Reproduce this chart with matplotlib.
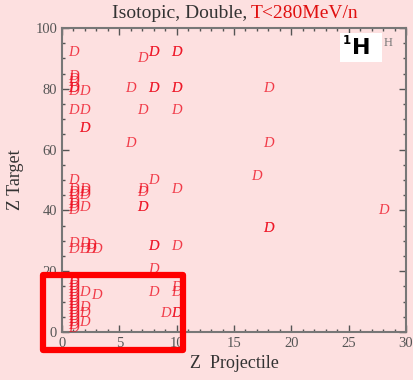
import matplotlib.pyplot as plt
from matplotlib.patches import Rectangle
from matplotlib.ticker import MultipleLocator

# projectile / target charge of each double-differential isotopic data set
proj_z = [1, 7, 8, 8, 10, 10,
          1, 1, 1, 1, 1, 1, 2, 6, 8, 8, 10, 10, 18,
          1, 2, 7, 10,
          2, 2, 6, 18, 17,
          1, 8, 7, 7, 10,
          1, 1, 1, 2, 2, 2,
          1, 1, 1, 1, 2, 7, 7, 28, 18, 18,
          1, 1, 2, 2, 2.5, 2.5, 3, 8, 8, 10,
          8,
          1, 1, 1, 1, 1, 1, 1, 1, 1, 1, 1, 1, 1, 1, 1, 1, 1,
          2, 3, 2, 2, 2, 8, 10, 10, 9, 10, 10]
targ_z = [92, 90, 92, 92, 92, 92,
          84, 83, 82, 80, 80, 79, 79, 80, 80, 80, 80, 80, 80,
          73, 73, 73, 73,
          67, 67, 62, 62, 51,
          50, 50, 47, 46, 47,
          47, 46, 45, 47, 46, 45,
          43, 42, 41, 40, 41, 41, 41, 40, 34, 34,
          29, 27, 29, 27, 28.5, 27, 27, 28, 28, 28,
          20.5,
          1, 2, 3, 4, 5, 6, 7, 8, 9, 10, 11, 12, 13, 14, 15, 16, 17,
          13, 12, 8, 6, 3, 13, 13, 14.5, 6, 6, 6]

title_left = "Isotopic, Double,"
title_right = "T<280MeV/n"
x_label = "Z  Projectile"
y_label = "Z Target"

pink = "#fde0e0"
grey = "#555555"
serif = "Liberation Serif"

fig = plt.figure(figsize=(4.14, 3.8), dpi=100, facecolor=pink)
ax = fig.add_axes([62 / 414, 48 / 380, 344 / 414, 304 / 380], facecolor=pink)

for x, y in zip(proj_z, targ_z):
    ax.text(x, y, "D", color="#ee1122", alpha=0.8, fontsize=10.5,
            family=serif, style="italic", ha="center", va="center")

ax.set_xlim(0, 30)
ax.set_ylim(0, 100)
ax.xaxis.set_major_locator(MultipleLocator(5))
ax.xaxis.set_minor_locator(MultipleLocator(1))
ax.yaxis.set_major_locator(MultipleLocator(20))
ax.yaxis.set_minor_locator(MultipleLocator(5))
ax.tick_params(which="both", direction="in", top=True, right=True,
               color=grey, labelcolor=grey, labelsize=10.5, width=1)
ax.tick_params(which="major", length=5)
ax.tick_params(which="minor", length=2.5)
for lbl in ax.get_xticklabels() + ax.get_yticklabels():
    lbl.set_family(serif)
for sp in ax.spines.values():
    sp.set_color("#777777")
    sp.set_linewidth(1.5)

ax.set_xlabel(x_label, family=serif, fontsize=13, color="#333333", labelpad=4)
ax.set_ylabel(y_label, family=serif, fontsize=13, color="#333333", labelpad=8)

# two-colour title
fig.text(247 / 414, 1 - 13 / 380, title_left, family=serif, fontsize=14,
         color="#333333", ha="right", va="center")
fig.text(251 / 414, 1 - 13 / 380, title_right, family=serif, fontsize=14,
         color="#e01010", ha="left", va="center")

# nucleus tag in the corner
fig.patches.append(Rectangle((340 / 414, 1 - 62 / 380), 42 / 414, 29 / 380,
                             transform=fig.transFigure, facecolor="white",
                             edgecolor="none", zorder=3))
fig.text(352 / 414, 1 - 48 / 380, "H", family="DejaVu Sans", weight="bold",
         fontsize=16, color="black", ha="left", va="center", zorder=4)
fig.text(347 / 414, 1 - 41 / 380, "1", family="DejaVu Sans", weight="bold",
         fontsize=8.5, color="black", ha="center", va="center", zorder=4)
fig.text(388 / 414, 1 - 43 / 380, "H", family=serif, fontsize=9,
         color="#777777", ha="center", va="center")

# highlight of the light-system corner
ax.add_patch(Rectangle((-1.66, -5.9), 12.2, 24.65, fill=False,
                       edgecolor="#ff0000", linewidth=4.5,
                       joinstyle="round", clip_on=False, zorder=5))

fig.savefig("out.png", dpi=100, facecolor=pink)
